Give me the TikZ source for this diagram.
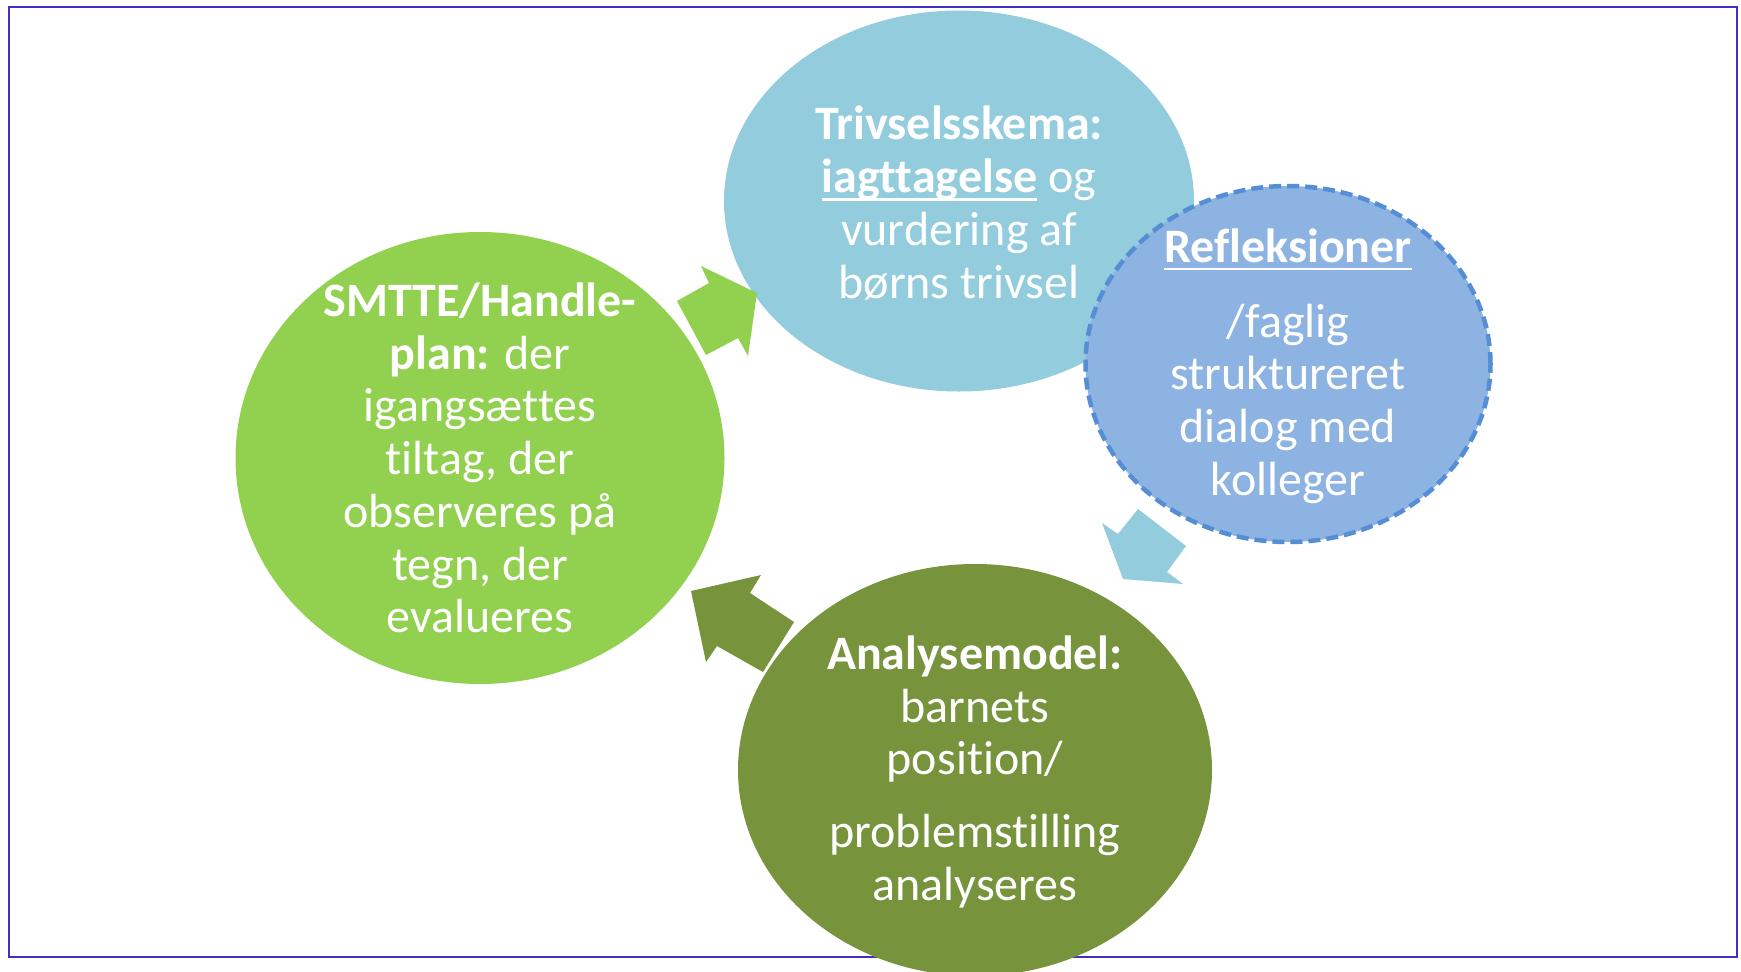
\documentclass[tikz,border=0pt]{standalone}
\usepackage{fontspec}
\setmainfont{Carlito}[Ligatures=NoCommon]
\usetikzlibrary{shapes.geometric}
\definecolor{cBlue}{HTML}{93CDDD}
\definecolor{cRefl}{HTML}{8DB3E2}
\definecolor{cReflLine}{HTML}{558ED5}
\definecolor{cGreen}{HTML}{92D050}
\definecolor{cDark}{HTML}{77933C}
\definecolor{cFrame}{HTML}{4030C0}
\newcommand\myul[1]{\setbox0\hbox{#1}\rlap{\rule[-8pt]{\wd0}{2.8pt}}\box0\relax}
\tikzset{
  blob/.style={ellipse, inner sep=0pt, draw=none},
  blobtext/.style={text=white, align=center, font=\fontsize{48}{52.7}\selectfont, inner sep=0pt},
  blockarrow/.style={draw=none}
}
\begin{document}
\begin{tikzpicture}[x=1pt,y=-1pt]
\useasboundingbox (0,0) rectangle (1741,972);
\fill[white] (0,0) rectangle (1741,972);
\draw[cFrame, line width=2.4pt] (9,7) rectangle (1737,957);
% ellipses
\node[blob, fill=cBlue, minimum width=470, minimum height=381] (triv) at (959,201) {};
\node[blob, fill=cRefl, draw=cReflLine, line width=4.5pt, dash pattern=on 12pt off 6pt, minimum width=405, minimum height=356] (refl) at (1288,364) {};
\node[blob, fill=cGreen, minimum width=489, minimum height=452] (smtte) at (480,458) {};
\node[blob, fill=cDark, minimum width=474, minimum height=412] (anal) at (975,770) {};
% block arrows
\fill[cGreen] (677,301) -- (709,283) -- (701,266) -- (757,293) -- (748,356) -- (738,338) -- (706,355) -- cycle;
\fill[cBlue] (1138,509) -- (1186,546) -- (1167,572) -- (1183,584) -- (1123,579) -- (1102,523) -- (1118,534) -- cycle;
\fill[cDark] (691,591) -- (761,575) -- (750,593) -- (794,622) -- (763,672) -- (717,646) -- (706,662) -- cycle;
% texts
\node[blobtext] (trivT) at ([yshift=-2pt]triv.center) {\textbf{Trivselsskema:}\\\myul{\textbf{iagttagelse}} og\\vurdering af\\børns trivsel};
\node[blobtext] (reflT) at ([yshift=-2pt]refl.center) {\myul{\textbf{Refleksioner}}\\[22pt]/faglig\\struktureret\\dialog med\\kolleger};
\node[blobtext] (smtteT) at (smtte.center) {\textbf{SMTTE/Handle-}\\\textbf{plan:} der\\igangsættes\\tiltag, der\\observeres på\\tegn, der\\evalueres};
\node[blobtext] (analT) at ([yshift=-2pt]anal.center) {\textbf{Analysemodel:}\\barnets\\position/\\[20pt]problemstilling\\analyseres};
\end{tikzpicture}
\end{document}
